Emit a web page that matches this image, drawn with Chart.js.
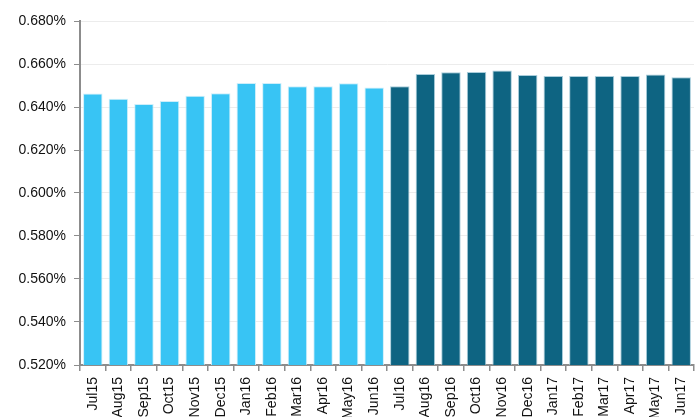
<!DOCTYPE html>
<html>
<head>
<meta charset="utf-8">
<style>
  html, body { margin: 0; padding: 0; background: #ffffff; }
  #wrap { width: 698px; height: 417px; position: relative; }
</style>
<script src="https://cdn.jsdelivr.net/npm/chart.js@4/dist/chart.umd.min.js"></script>
</head>
<body>
<div id="wrap"><canvas id="chart" width="698" height="417"></canvas></div>
<script>
// Monthly rate, Jul 2015 - Jun 2017 (percent)
const months = [
  'Jul15', 'Aug15', 'Sep15', 'Oct15', 'Nov15', 'Dec15',
  'Jan16', 'Feb16', 'Mar16', 'Apr16', 'May16', 'Jun16',
  'Jul16', 'Aug16', 'Sep16', 'Oct16', 'Nov16', 'Dec16',
  'Jan17', 'Feb17', 'Mar17', 'Apr17', 'May17', 'Jun17'
];
const firstYear = [0.6463, 0.6438, 0.6414, 0.6428, 0.6452, 0.6464,
                   0.6512, 0.6512, 0.6497, 0.6497, 0.6511, 0.6491];
const secondYear = [0.6497, 0.6554, 0.6562, 0.6563, 0.6570, 0.6549,
                    0.6544, 0.6544, 0.6544, 0.6544, 0.6551, 0.6538];
const yMin = 0.52, yMax = 0.68, yStep = 0.02;

const values = firstYear.concat(secondYear);
const fills = months.map((m, i) => i < firstYear.length ? '#38c4f4' : '#0e6482');
const edges = months.map((m, i) => i < firstYear.length ? 'rgba(200,236,250,0.9)' : 'rgba(160,200,215,0.9)');

new Chart(document.getElementById('chart'), {
  type: 'bar',
  data: {
    labels: months,
    datasets: [{
      data: values,
      backgroundColor: fills,
      borderColor: edges,
      borderWidth: 1,
      barPercentage: 0.76,
      categoryPercentage: 1.0
    }]
  },
  options: {
    responsive: false,
    animation: false,
    layout: { padding: { top: 21, right: 4, left: 0, bottom: 0 } },
    plugins: { legend: { display: false }, tooltip: { enabled: false } },
    scales: {
      x: {
        offset: true,
        grid: {
          offset: true,
          drawOnChartArea: false,
          drawTicks: true,
          tickLength: 6,
          color: '#8c8c8c',
          lineWidth: 1.5
        },
        border: { color: '#8c8c8c', width: 2 },
        ticks: {
          minRotation: 90,
          maxRotation: 90,
          autoSkip: false,
          padding: 6,
          color: '#111111',
          font: { family: 'Liberation Sans', size: 14 }
        },
        afterFit: (scale) => {
          scale.height = 52;
          scale.paddingLeft = 0;
          scale.paddingRight = 0;
        }
      },
      y: {
        min: yMin,
        max: yMax,
        grid: {
          color: '#ececec',
          lineWidth: 1,
          drawTicks: true,
          tickLength: 6,
          tickColor: '#8c8c8c'
        },
        border: { color: '#8c8c8c', width: 2 },
        ticks: {
          stepSize: yStep,
          padding: 8,
          color: '#111111',
          font: { family: 'Liberation Sans', size: 14 },
          callback: (v) => v.toFixed(3) + '%'
        },
        afterFit: (scale) => { scale.width = 80; }
      }
    }
  }
});
</script>
</body>
</html>
